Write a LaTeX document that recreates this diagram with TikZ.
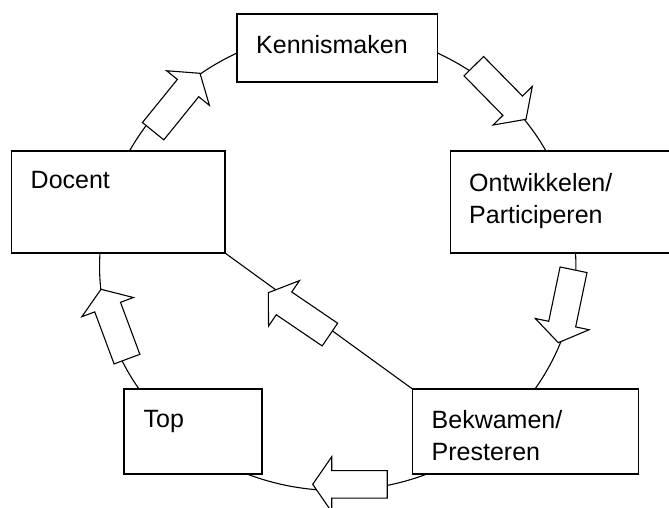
\documentclass[tikz,border=0pt]{standalone}
\usepackage{fontspec}
\setmainfont{Liberation Sans}

\begin{document}
\begin{tikzpicture}[x=1pt,y=-1pt,
    box/.style={draw,line width=1.1pt,inner sep=0pt,outer sep=0pt,anchor=north west},
    lbl/.style={anchor=north west,inner sep=0pt,align=left,font=\fontsize{25}{32}\selectfont},
    cyc/.style={line width=1.1pt,looseness=0.88},
    blockarrow/.pic={\filldraw[line width=1.1pt,fill=white] (0,0) -- (-19,27.5) -- (-19,13.75) -- (-74.5,13.75)
        -- (-74.5,-13.75) -- (-19,-13.75) -- (-19,-27.5) -- cycle;}]

    \useasboundingbox (0,0) rectangle (669,508);
    \clip (0,0) rectangle (669,508);

    % boxes
    \node[box,minimum width=200.5pt,minimum height=68pt] (K) at (237,14) {};
    \node[box,minimum width=213.5pt,minimum height=102pt] (D) at (11.5,151) {};
    \node[box,minimum width=230pt,minimum height=102pt] (O) at (450.5,151) {};
    \node[box,minimum width=138pt,minimum height=85pt] (T) at (124,389) {};
    \node[box,minimum width=226pt,minimum height=85pt] (B) at (412.5,389) {};

    % texts
    \node[lbl] (Ktxt) at ([xshift=19pt,yshift=-21pt]K.north west) {Kennismaken};
    \node[lbl] (Dtxt) at ([xshift=19pt,yshift=-20pt]D.north west) {Docent};
    \node[lbl] (Otxt) at ([xshift=18.5pt,yshift=-22pt]O.north west) {Ontwikkelen/\\Participeren};
    \node[lbl] (Ttxt) at ([xshift=19.5pt,yshift=-21pt]T.north west) {Top};
    \node[lbl] (Btxt) at ([xshift=19pt,yshift=-21.4pt]B.north west) {Bekwamen/\\Presteren};

    % cycle
    \draw[cyc] ([xshift=11.25pt]D.north) to[out=60.5,in=205] ([yshift=-5pt]K.west);
    \draw[cyc] ([yshift=-5pt]K.east) to[out=-25,in=119.7] ([xshift=95.5pt]O.north west);
    \draw[cyc] ([xshift=125pt]O.south west) to[out=-86.2,in=54.7] ([xshift=122.5pt]B.north west);
    \draw[cyc] ([xshift=14.5pt]B.south west) to[out=200.7,in=-21] ([xshift=-15pt]T.south east);
    \draw[cyc] ([xshift=15pt]T.north west) to[out=125.2,in=-93.8] ([xshift=88.5pt]D.south west);
    \draw[cyc] (B.north west) -- (D.south east);

    % block arrows
    \pic[rotate=51] at (200,73.3) {blockarrow};
    \pic[rotate=-45.5] at (526,119.3) {blockarrow};
    \pic[rotate=-101.8] at (558.3,342.7) {blockarrow};
    \pic[rotate=180] at (312.7,484.3) {blockarrow};
    \pic[rotate=110.4] at (101,289.3) {blockarrow};
    \pic[rotate=145.8] at (268.3,292.7) {blockarrow};
\end{tikzpicture}
\end{document}
